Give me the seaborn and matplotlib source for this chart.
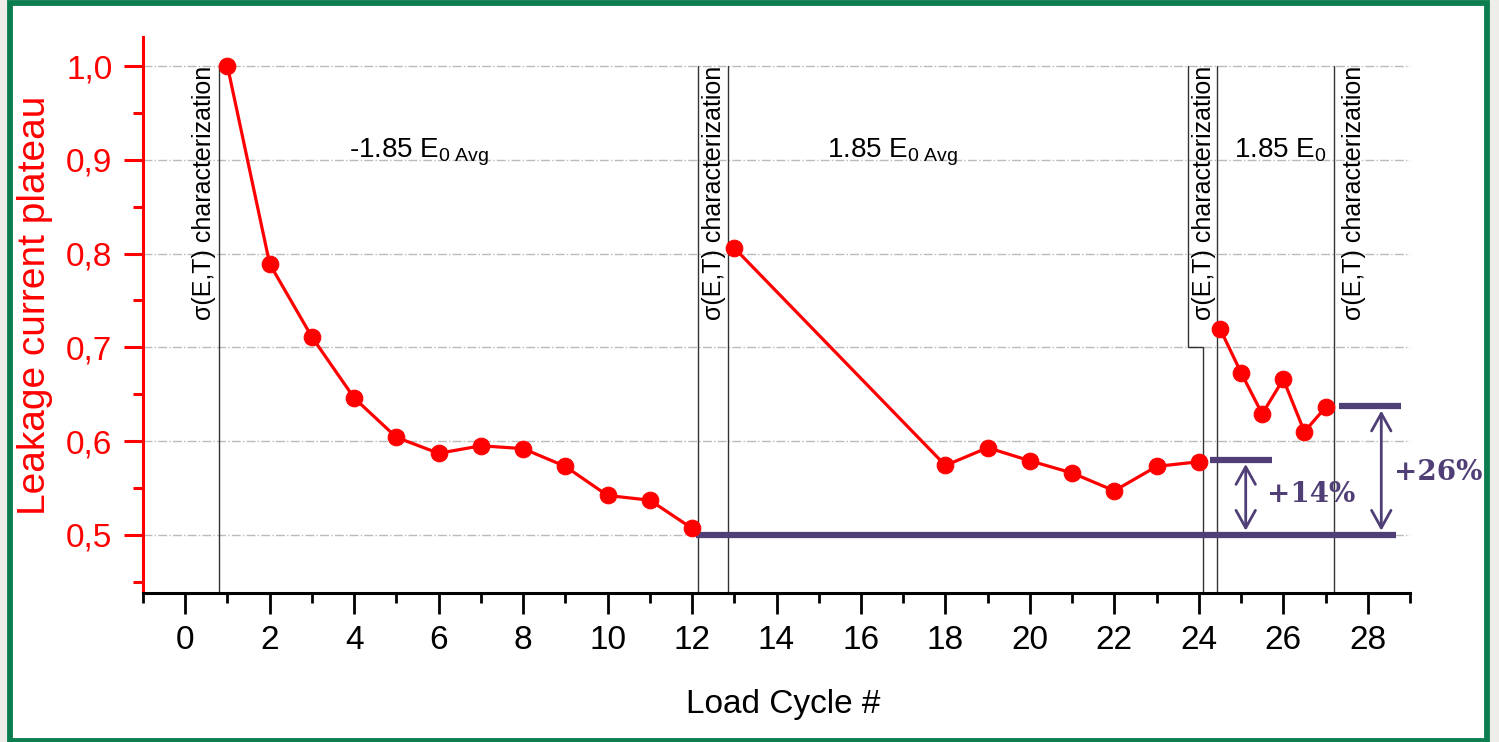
import matplotlib
matplotlib.use("Agg")
from matplotlib import pyplot as plt
from matplotlib.patches import Rectangle
from matplotlib.ticker import MultipleLocator, FixedLocator
import numpy as np
import pandas as pd
import seaborn as sns

# data
cycle = [1, 2, 3, 4, 5, 6, 7, 8, 9, 10, 11, 12,
         13, 18, 19, 20, 21, 22, 23, 24,
         24.5, 25, 25.5, 26, 26.5, 27]
leakage = [1.000, 0.789, 0.711, 0.646, 0.604, 0.587, 0.595, 0.592, 0.573, 0.542, 0.537, 0.507,
           0.806, 0.574, 0.593, 0.579, 0.566, 0.547, 0.573, 0.578,
           0.720, 0.673, 0.629, 0.666, 0.610, 0.636]
segment = [1] * 12 + [2] * 8 + [3] * 6

y_ticks = [0.5, 0.6, 0.7, 0.8, 0.9, 1.0]
y_ticklabels = ["0,5", "0,6", "0,7", "0,8", "0,9", "1,0"]

# sigma(E,T) characterization markers
char_lines = [0.79, 12.15, 12.84, 24.42, 27.19]
char_text_x = [0.45, 12.53, 24.12, 27.68]
step_line = ([23.75, 23.75, 24.11, 24.11], [1.0, 0.7, 0.7, 0.438])

phase_labels = [r"-1.85 E$_{\mathrm{0\ Avg}}$", r"1.85 E$_{\mathrm{0\ Avg}}$", r"1.85 E$_{\mathrm{0}}$"]
phase_x = [3.88, 15.19, 24.83]

baseline = 0.5
levels = [0.58, 0.637]
level_spans = [(24.27, 25.73), (27.33, 28.79)]
arrow_x = [25.11, 28.32]
pct_labels = ["+14%", "+26%"]
pct_pos = [(26.67, 0.543), (29.67, 0.567)]

red = "#FF0000"
purple = "#503F76"

sns.set_theme(style="white")
plt.rcParams["font.family"] = ["Liberation Sans", "DejaVu Sans"]
plt.rcParams["mathtext.fontset"] = "custom"
plt.rcParams["mathtext.rm"] = "Liberation Sans"
plt.rcParams["mathtext.it"] = "Liberation Sans:italic"

fig = plt.figure(figsize=(14.99, 7.42), dpi=100)
fig.patch.set_facecolor("#EEEDEA")
frame = Rectangle((0.0065, 0.0013), 0.9855, 0.9947, transform=fig.transFigure,
                  facecolor="white", edgecolor="#0B7D4E", linewidth=4.2, zorder=-10)
fig.add_artist(frame)

ax = fig.add_axes([143 / 1499, 149 / 742, 1267 / 1499, 556 / 742])
ax.set_zorder(5)
ax.set_facecolor("none")
ax.patch.set_alpha(0)

df = pd.DataFrame({"cycle": cycle, "leakage": leakage, "segment": segment})
sns.lineplot(data=df, x="cycle", y="leakage", units="segment", estimator=None,
             color=red, lw=2.3, marker="o", markersize=12, markeredgecolor=red,
             ax=ax, zorder=5, legend=False)

ax.set_xlim(-1, 29)
ax.set_ylim(0.438, 1.031)

# grid only on major y levels
for y in y_ticks:
    ax.axhline(y, color="#BBBBBB", lw=1, ls="-.", zorder=0)

# characterization lines and labels
for x in char_lines:
    ax.plot([x, x], [1.0, 0.438], color="#333333", lw=1, zorder=2)
ax.plot(step_line[0], step_line[1], color="#333333", lw=1, zorder=2)
for x in char_text_x:
    ax.text(x, 1.0, "σ(E,T) characterization", rotation=90, ha="center", va="top",
            fontsize=18, color="black", zorder=3)

for lab, x in zip(phase_labels, phase_x):
    ax.text(x, 0.902, lab, ha="left", va="baseline", fontsize=20, color="black")

# increase annotation
ax.plot([12.1, 28.67], [baseline, baseline], color=purple, lw=4.5, solid_capstyle="butt", zorder=4)
for lvl, (x0, x1), xa in zip(levels, level_spans, arrow_x):
    ax.plot([x0, x1], [lvl, lvl], color=purple, lw=4.5, solid_capstyle="butt", zorder=4)
    ax.annotate("", xy=(xa, baseline), xytext=(xa, lvl),
                arrowprops=dict(arrowstyle="<->,head_length=0.45,head_width=0.25",
                                color=purple, lw=2, mutation_scale=28,
                                shrinkA=3, shrinkB=3))
for lab, (x, y) in zip(pct_labels, pct_pos):
    ax.text(x, y, lab, ha="center", va="center", fontsize=20, fontweight="bold",
            family="DejaVu Serif", color=purple, clip_on=False)

# axes styling
for s in ["top", "right"]:
    ax.spines[s].set_visible(False)
ax.spines["left"].set_color(red)
ax.spines["left"].set_linewidth(2.2)
ax.spines["bottom"].set_color("black")
ax.spines["bottom"].set_linewidth(2.2)

ax.xaxis.set_major_locator(MultipleLocator(2))
ax.xaxis.set_minor_locator(MultipleLocator(1))
ax.yaxis.set_major_locator(FixedLocator(y_ticks))
ax.yaxis.set_minor_locator(FixedLocator([0.45, 0.55, 0.65, 0.75, 0.85, 0.95]))
ax.set_yticklabels(y_ticklabels)

ax.tick_params(axis="x", which="major", direction="out", length=15, width=2, color="black",
               labelsize=24, labelcolor="black", pad=8, bottom=True)
ax.tick_params(axis="x", which="minor", direction="out", length=7, width=2, color="black",
               bottom=True)
ax.tick_params(axis="y", which="major", direction="out", length=14, width=2.2, color=red,
               labelsize=24, labelcolor=red, pad=8, left=True)
ax.tick_params(axis="y", which="minor", direction="out", length=7, width=2.2, color=red,
               left=True)

ax.set_xlabel("Load Cycle #", fontsize=24, color="black")
ax.set_ylabel("Leakage current plateau", fontsize=28, color=red)
ax.xaxis.set_label_coords(0.505, -0.172)
ax.yaxis.set_label_coords(-0.071, 0.518)

fig.savefig("out.png", dpi=100, facecolor=fig.get_facecolor())
